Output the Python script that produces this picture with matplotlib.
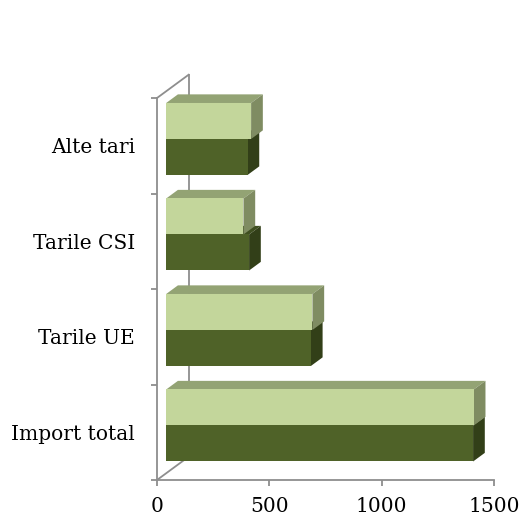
import matplotlib
matplotlib.use("Agg")
import matplotlib.pyplot as plt
from matplotlib.patches import Polygon

categories = ["Import total", "Tarile UE", "Tarile CSI", "Alte tari"]
dark_values = [1366, 644, 369, 362]
light_values = [1369, 651, 344, 378]
x_ticks = [0, 500, 1000, 1500]

DARK = {"front": "#4F6228", "top": "#3F4F20", "side": "#323F18"}
LIGHT = {"front": "#C3D69B", "top": "#93A374", "side": "#7F8C62"}
AXIS_GRAY = "#8E8E8E"

# oblique depth of the whole wall, in data units
DEPTH_X = 141.0
DEPTH_Y = 0.244
BAR_FRONT = 0.29   # depth fraction where bars start
BAR_BACK = 0.66    # depth fraction where bars end
BAR_H = 0.377


def proj(x, y, d):
    return (x + d * DEPTH_X, y + d * DEPTH_Y)


def draw_box(ax, y0, y1, value, colors, z):
    f, b = BAR_FRONT, BAR_BACK
    front = [proj(0, y0, f), proj(value, y0, f), proj(value, y1, f), proj(0, y1, f)]
    top = [proj(0, y1, f), proj(value, y1, f), proj(value, y1, b), proj(0, y1, b)]
    side = [proj(value, y0, f), proj(value, y0, b), proj(value, y1, b), proj(value, y1, f)]
    for pts, key in ((top, "top"), (side, "side"), (front, "front")):
        ax.add_patch(Polygon(pts, closed=True, facecolor=colors[key],
                             edgecolor="none", zorder=z, clip_on=False))


fig = plt.figure(figsize=(5.21, 5.20), dpi=100)
ax = fig.add_axes([157 / 521, 40 / 520, 337 / 521, 382 / 520])
ax.set_xlim(0, 1500)
ax.set_ylim(-0.5, len(categories) - 0.5)

for i, cat in enumerate(categories):
    draw_box(ax, i - BAR_H, i, dark_values[i], DARK, 3)
    draw_box(ax, i, i + BAR_H, light_values[i], LIGHT, 4)

# side wall and floor edges
top_y = len(categories) - 0.5
lw = 1.3
ax.plot([0, DEPTH_X], [top_y, top_y + DEPTH_Y], color=AXIS_GRAY, lw=lw, clip_on=False, zorder=1)
ax.plot([DEPTH_X, DEPTH_X], [top_y + DEPTH_Y, -0.5 + DEPTH_Y], color=AXIS_GRAY, lw=lw, clip_on=False, zorder=1)
ax.plot([0, DEPTH_X], [-0.5, -0.5 + DEPTH_Y], color=AXIS_GRAY, lw=lw, clip_on=False, zorder=1)

for side in ("top", "right"):
    ax.spines[side].set_visible(False)
for side in ("left", "bottom"):
    ax.spines[side].set_color(AXIS_GRAY)
    ax.spines[side].set_linewidth(lw)

ax.set_xticks(x_ticks)
ax.set_xticklabels([str(v) for v in x_ticks], fontfamily="DejaVu Serif", fontsize=14.5)
ax.tick_params(axis="x", direction="out", length=4, width=lw, color=AXIS_GRAY, pad=8)

ax.set_yticks([i - 0.5 for i in range(len(categories) + 1)])
ax.set_yticklabels([])
ax.tick_params(axis="y", which="major", direction="out", length=4, width=lw, color=AXIS_GRAY)
ax.set_yticks(range(len(categories)), minor=True)
ax.set_yticklabels(categories, minor=True, fontfamily="DejaVu Serif", fontsize=14.5)
ax.tick_params(axis="y", which="minor", length=0, pad=16)

ax.set_facecolor("none")
fig.savefig("out.png", dpi=100)
